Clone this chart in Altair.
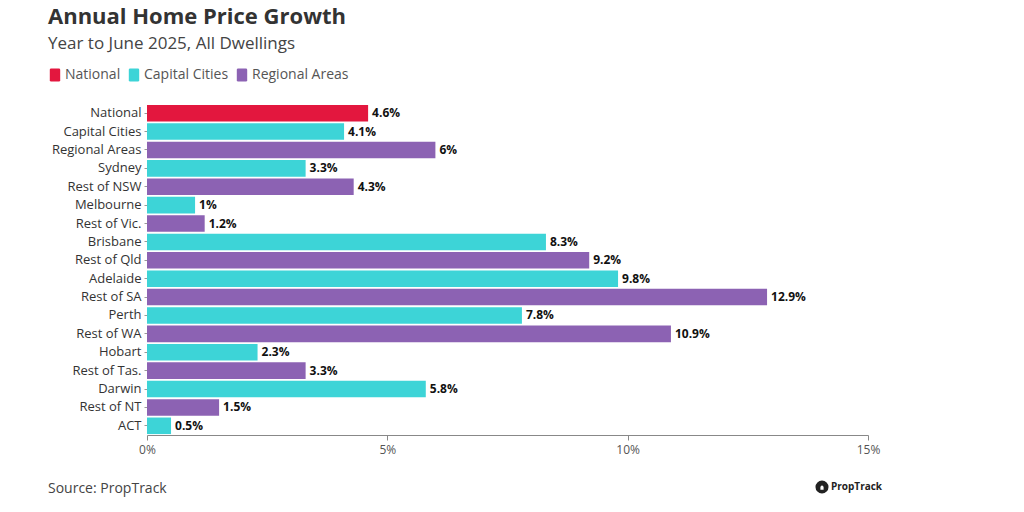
import altair as alt
import pandas as pd

regions = ["National", "Capital Cities", "Regional Areas", "Sydney", "Rest of NSW",
           "Melbourne", "Rest of Vic.", "Brisbane", "Rest of Qld", "Adelaide",
           "Rest of SA", "Perth", "Rest of WA", "Hobart", "Rest of Tas.",
           "Darwin", "Rest of NT", "ACT"]
growth = [4.6, 4.1, 6, 3.3, 4.3, 1, 1.2, 8.3, 9.2, 9.8, 12.9, 7.8, 10.9, 2.3, 3.3, 5.8, 1.5, 0.5]
groups = ["National", "Capital Cities", "Regional Areas", "Capital Cities", "Regional Areas",
          "Capital Cities", "Regional Areas", "Capital Cities", "Regional Areas", "Capital Cities",
          "Regional Areas", "Capital Cities", "Regional Areas", "Capital Cities", "Regional Areas",
          "Capital Cities", "Regional Areas", "Capital Cities"]
group_names = ["National", "Capital Cities", "Regional Areas"]
group_colors = ["#E3173E", "#3DD4D7", "#8C62B3"]
x_ticks = [0, 5, 10, 15]

title_text = "Annual Home Price Growth"
subtitle_text = "Year to June 2025, All Dwellings"
source_text = "Source: PropTrack"
logo_text = "PropTrack"

FONT = "Open Sans"

df = pd.DataFrame({"region": regions, "growth": growth, "group": groups})
df["label"] = [f"{v:g}%" for v in growth]

W, H = 721, 331
PL, PT = 139, 96

ROUND_RECT = ("M-0.6,-1 L0.6,-1 Q0.8,-1 0.8,-0.8 L0.8,0.8 Q0.8,1 0.6,1 "
              "L-0.6,1 Q-0.8,1 -0.8,0.8 L-0.8,-0.8 Q-0.8,-1 -0.6,-1 Z")

y_enc = alt.Y("region:N", sort=regions, title=None,
              scale=alt.Scale(paddingInner=0.1, paddingOuter=0.05),
              axis=alt.Axis(domain=False, ticks=True, tickSize=3, tickColor="#999",
                            labelFontSize=13, labelColor="#333", labelFont=FONT,
                            labelPadding=3))
x_enc = alt.X("growth:Q", title=None,
              scale=alt.Scale(domain=[0, 15], nice=False),
              axis=alt.Axis(values=x_ticks, labelExpr="datum.value + '%'", grid=False,
                            labelFlush=False,
                            domainColor="#888", tickColor="#888", tickSize=5,
                            labelFontSize=12, labelColor="#555", labelFont=FONT,
                            labelPadding=4))

bars = alt.Chart(df).mark_bar().encode(
    y=y_enc,
    x=x_enc,
    color=alt.Color("group:N", scale=alt.Scale(domain=group_names, range=group_colors),
                    legend=alt.Legend(title=None, orient="none", legendX=-99, legendY=-36,
                                      direction="horizontal", symbolType=ROUND_RECT,
                                      symbolSize=169, symbolStrokeWidth=0,
                                      labelFontSize=14, labelColor="#555", labelFont=FONT,
                                      labelOffset=3, columnPadding=6)),
)

labels = alt.Chart(df).mark_text(align="left", baseline="middle", dx=4, fontSize=12,
                                 fontWeight="bold", color="#111", font=FONT).encode(
    y=alt.Y("region:N", sort=regions),
    x=alt.X("growth:Q"),
    text="label:N",
)

one = pd.DataFrame({"k": [0]})

title = alt.Chart(one).mark_text(align="left", baseline="alphabetic", fontSize=22,
                                 fontWeight="bold", color="#333", font=FONT).encode(
    x=alt.value(-99), y=alt.value(-80), text=alt.value(title_text))
subtitle = alt.Chart(one).mark_text(align="left", baseline="alphabetic", fontSize=17,
                                    color="#444", font=FONT).encode(
    x=alt.value(-99), y=alt.value(-55), text=alt.value(subtitle_text))
source = alt.Chart(one).mark_text(align="left", baseline="alphabetic", fontSize=14,
                                  color="#444", font=FONT).encode(
    x=alt.value(-99), y=alt.value(389), text=alt.value(source_text))
logo_circle = alt.Chart(one).mark_point(filled=True, shape="circle", size=170,
                                        color="#222", opacity=1).encode(
    x=alt.value(675), y=alt.value(383))
logo_house = alt.Chart(one).mark_point(filled=True, shape="M-0.6,1 L-0.6,-0.1 L0,-0.7 L0.6,-0.1 L0.6,1 Z",
                                       size=28, color="white", opacity=1).encode(
    x=alt.value(675), y=alt.value(383))
logo = alt.Chart(one).mark_text(align="left", baseline="middle", fontSize=10,
                                fontWeight="bold", color="#222", font=FONT).encode(
    x=alt.value(684), y=alt.value(383), text=alt.value(logo_text))

chart = alt.layer(bars, labels, title, subtitle, source, logo_circle, logo_house, logo).properties(
    width=W, height=H,
    autosize=alt.AutoSizeParams(type="none"),
    padding={"left": PL, "top": PT, "right": 1008 - PL - W, "bottom": 496 - PT - H},
).configure_view(stroke=None)

chart.save("out.html", embed_options={"renderer": "svg", "actions": False})
